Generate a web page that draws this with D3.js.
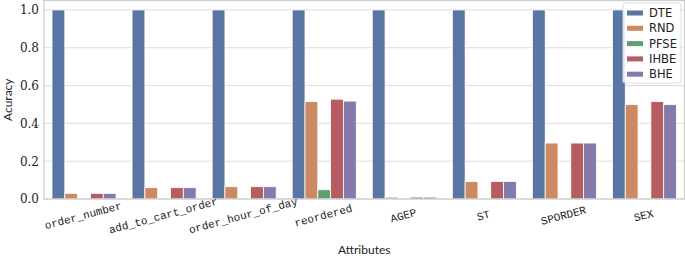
<!DOCTYPE html>
<html>
<head>
<meta charset="utf-8">
<script src="https://cdn.jsdelivr.net/npm/d3@7"></script>
<style>
  body { margin: 0; background: #fff; }
  svg { display: block; }
</style>
</head>
<body>
<div id="chart"></div>
<script>
const attributes = ["order_number", "add_to_cart_order", "order_hour_of_day", "reordered", "AGEP", "ST", "SPORDER", "SEX"];
const methods = ["DTE", "RND", "PFSE", "IHBE", "BHE"];
const methodColors = ["#5875a4", "#cc8963", "#5f9e6e", "#b55d60", "#857aab"];

const dteValues  = [1.0, 1.0, 1.0, 1.0, 1.0, 1.0, 1.0, 1.0];
const rndValues  = [0.030, 0.060, 0.065, 0.515, 0.010, 0.093, 0.296, 0.499];
const pfseValues = [0, 0, 0, 0.049, 0, 0, 0, 0];
const ihbeValues = [0.030, 0.060, 0.065, 0.528, 0.010, 0.093, 0.296, 0.515];
const bheValues  = [0.030, 0.060, 0.065, 0.518, 0.010, 0.093, 0.296, 0.499];
const yTicks = [0, 0.2, 0.4, 0.6, 0.8, 1.0];

const seriesValues = [dteValues, rndValues, pfseValues, ihbeValues, bheValues];

const width = 685, height = 258;
const margin = {top: 0.5, right: 0.5, bottom: 59, left: 44};
const innerW = width - margin.left - margin.right;
const innerH = height - margin.top - margin.bottom;

const svg = d3.select("#chart").append("svg")
    .attr("width", width)
    .attr("height", height);

const g = svg.append("g")
    .attr("transform", `translate(${margin.left}, ${margin.top})`);

const x = d3.scaleBand()
    .domain(attributes)
    .range([0, innerW])
    .paddingInner(0.2)
    .paddingOuter(0.1);

const xSub = d3.scaleBand()
    .domain(methods)
    .range([0, x.bandwidth()]);

const y = d3.scaleLinear()
    .domain([0, 1.05])
    .range([innerH, 0]);

// grid
g.append("g")
    .selectAll("line")
    .data(yTicks)
    .join("line")
    .attr("x1", 0)
    .attr("x2", innerW)
    .attr("y1", d => y(d))
    .attr("y2", d => y(d))
    .attr("stroke", "#dcdcdc")
    .attr("stroke-width", 1);

// bars
const rows = attributes.map((a, i) => methods.map((m, j) => ({attr: a, method: m, value: seriesValues[j][i], color: methodColors[j]})));

g.append("g")
    .selectAll("g")
    .data(rows)
    .join("g")
    .attr("transform", d => `translate(${x(d[0].attr)}, 0)`)
    .selectAll("rect")
    .data(d => d.filter(v => v.value > 0))
    .join("rect")
    .attr("x", d => xSub(d.method))
    .attr("y", d => y(d.value))
    .attr("width", xSub.bandwidth())
    .attr("height", d => y(0) - y(d.value))
    .attr("fill", d => d.color)
    .attr("stroke", "#fff")
    .attr("stroke-width", 0.8);

// frame
g.append("rect")
    .attr("x", 0)
    .attr("y", 0)
    .attr("width", innerW)
    .attr("height", innerH)
    .attr("fill", "none")
    .attr("stroke", "#cccccc")
    .attr("stroke-width", 1.2);

// y axis
const yAxis = d3.axisLeft(y)
    .tickValues(yTicks)
    .tickFormat(d3.format(".1f"))
    .tickSize(0)
    .tickPadding(5);

g.append("g")
    .call(yAxis)
    .call(s => s.select(".domain").remove())
    .selectAll("text")
    .attr("font-family", "'DejaVu Serif', 'Liberation Serif', serif")
    .attr("font-size", 12)
    .attr("fill", "#222");

// x axis
const xAxis = d3.axisBottom(x)
    .tickSize(0)
    .tickPadding(0);

g.append("g")
    .attr("transform", `translate(0, ${innerH})`)
    .call(xAxis)
    .call(s => s.select(".domain").remove())
    .selectAll("text")
    .attr("font-family", "'Liberation Mono', 'DejaVu Sans Mono', monospace")
    .attr("font-size", 11)
    .attr("fill", "#222")
    .attr("dy", 0)
    .attr("y", 0)
    .attr("text-anchor", "middle")
    .attr("transform", "translate(0, 20) rotate(-15)");

// axis titles
svg.append("text")
    .attr("x", margin.left + innerW / 2)
    .attr("y", 254)
    .attr("text-anchor", "middle")
    .attr("font-family", "Lato, 'DejaVu Sans', sans-serif")
    .attr("font-size", 12)
    .attr("fill", "#222")
    .text("Attributes");

svg.append("text")
    .attr("transform", `translate(12, ${margin.top + innerH / 2}) rotate(-90)`)
    .attr("text-anchor", "middle")
    .attr("font-family", "Lato, 'DejaVu Sans', sans-serif")
    .attr("font-size", 12)
    .attr("fill", "#222")
    .text("Acuracy");

// legend
const legend = svg.append("g")
    .attr("transform", "translate(623, 3)");

legend.append("rect")
    .attr("width", 58)
    .attr("height", 80)
    .attr("rx", 2)
    .attr("fill", "#fff")
    .attr("fill-opacity", 0.85)
    .attr("stroke", "#dddddd")
    .attr("stroke-width", 1);

const items = legend.selectAll("g.item")
    .data(methods)
    .join("g")
    .attr("class", "item")
    .attr("transform", (d, i) => `translate(0, ${10 + i * 15.3})`);

items.append("rect")
    .attr("x", 4)
    .attr("y", -2.5)
    .attr("width", 16)
    .attr("height", 5)
    .attr("fill", (d, i) => methodColors[i]);

items.append("text")
    .attr("x", 26)
    .attr("y", 0)
    .attr("dy", "0.35em")
    .attr("font-family", "'DejaVu Sans', sans-serif")
    .attr("font-size", 11.5)
    .attr("fill", "#222")
    .text(d => d);
</script>
</body>
</html>
